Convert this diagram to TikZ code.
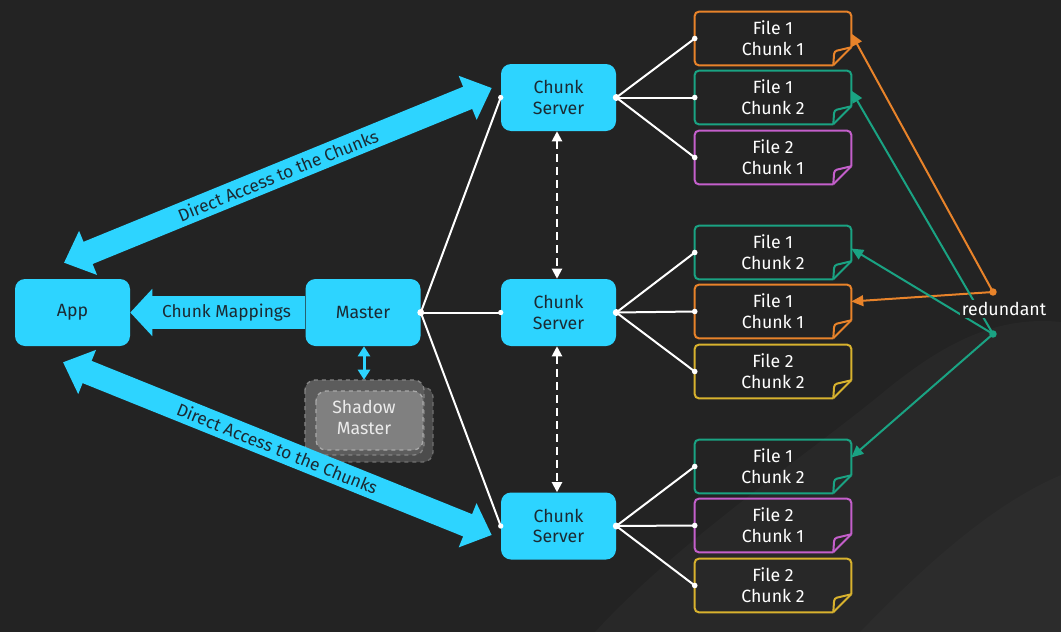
\documentclass[tikz,border=0pt]{standalone}
\usepackage{fontspec}
\setmainfont{Fira Sans}
\usetikzlibrary{arrows.meta}
\usetikzlibrary{calc}

\definecolor{bgdark}{HTML}{232323}
\definecolor{bgwave}{HTML}{282828}
\definecolor{bgwavetwo}{HTML}{2C2C2C}
\definecolor{cyanbox}{HTML}{2DD4FF}
\definecolor{boxtext}{HTML}{1B2A33}
\definecolor{orangec}{HTML}{E8832A}
\definecolor{tealc}{HTML}{1AA383}
\definecolor{magentac}{HTML}{C45FCB}
\definecolor{yellowc}{HTML}{D8B22E}

% folded chunk file: name, y, colour, text
\newcommand{\chunkfile}[4]{%
\node [filebox] (#1) at (773,#2) {#4};
\draw [#3, line width=1.5pt, rounded corners=3pt] ($(#1.south east)+(0,-18)$) -- (#1.north east) -- (#1.north west) -- (#1.south west) -- ($(#1.south east)+(-18,0)$) ;
\draw [#3, line width=1.5pt, line join=round] ($(#1.south east)+(-18,0)$) -- ($(#1.south east)+(0,-18)$) ;
\draw [#3, line width=1.5pt, rounded corners=2pt] ($(#1.south east)+(-18,0)$) -- ($(#1.south east)+(-17,-14)$) -- ($(#1.south east)+(0,-18)$) ;
}

\begin{document}
\begin{tikzpicture}[x=0.75pt,y=0.75pt,yscale=-1,xscale=1,
  cbox/.style={fill=cyanbox, rounded corners=7.5pt, minimum width=86.25pt, minimum height=50.25pt, text=boxtext, align=center, font=\fontsize{13.3}{15.5}\selectfont},
  filebox/.style={minimum width=117pt, minimum height=39.75pt, inner sep=0pt, text=white, align=center, font=\fontsize{13.3}{15.5}\selectfont},
  bigarrow/.style={draw=cyanbox, line width=18pt, <->, >={Triangle[length=19.5pt,width=34.5pt]}},
  maparrow/.style={draw=cyanbox, line width=24.75pt, ->, >={Triangle[length=16.5pt,width=34.5pt]}},
  smallarrow/.style={draw=cyanbox, line width=2.25pt, <->, >={Triangle[length=7.5pt,width=9pt]}},
  dasharrow/.style={draw=white, line width=1.5pt, dash pattern=on 6pt off 3.75pt, <->, >={Triangle[length=7.5pt,width=7.5pt]}},
  link/.style={draw=white, line width=1.5pt},
  redarrow/.style={line width=1.5pt, ->, >={Triangle[length=9pt,width=8pt]}},
  layer/.style={rounded corners=7.5pt, dashed, line width=1pt},
  bandlabel/.style={text=boxtext, font=\fontsize{13}{15}\selectfont}
]
\useasboundingbox (0,0) rectangle (1061,632);
%Shape: Background
\fill [bgdark] (0,0) rectangle (1061,632) ;
\fill [bgwave] (595,632) .. controls (680,540) and (800,460) .. (880,395) .. controls (940,345) and (995,315) .. (1061,322) -- (1061,632) -- cycle ;
\fill [bgwavetwo] (860,632) .. controls (920,570) and (990,505) .. (1061,475) -- (1061,632) -- cycle ;

%Boxes
\node [cbox] (app) at (72.5,312.5) {App};
\node [cbox] (master) at (363,312.5) {Master};
\node [cbox] (cs1) at (558.5,97.5) {Chunk\\Server};
\node [cbox] (cs2) at (558.5,312.5) {Chunk\\Server};
\node [cbox] (cs3) at (558.5,526) {Chunk\\Server};

%Shape: Shadow Master layers
\draw [layer, fill=black!70, draw=black!56] (313,387) rectangle (433,462) ;
\draw [layer, fill=black!64, draw=black!48] (305,380) rectangle (424,455) ;
\draw [layer, fill=black!50, draw=black!34] (316,391) rectangle (423,450) ;
\node [minimum width=89.25pt, minimum height=56.25pt, inner sep=0pt, text=white!92!black, align=center, font=\fontsize{13.3}{15.5}\selectfont] (shadow) at (364,417.5) {Shadow\\Master};

%Chunk files
\chunkfile{f11}{38.5}{orangec}{File 1\\Chunk 1}
\chunkfile{f12}{97.5}{tealc}{File 1\\Chunk 2}
\chunkfile{f13}{157.5}{magentac}{File 2\\Chunk 1}
\chunkfile{f21}{252.5}{tealc}{File 1\\Chunk 2}
\chunkfile{f22}{311.5}{orangec}{File 1\\Chunk 1}
\chunkfile{f23}{371.5}{yellowc}{File 2\\Chunk 2}
\chunkfile{f31}{466.5}{tealc}{File 1\\Chunk 2}
\chunkfile{f32}{525.5}{magentac}{File 2\\Chunk 1}
\chunkfile{f33}{585.5}{yellowc}{File 2\\Chunk 2}

%Big arrows
\draw [bigarrow] ($(app.north)+(-8.5,-16)$) -- ($(cs1.west)+(-9,-9.5)$) node [midway, rotate=22.2, bandlabel] {Direct Access to the Chunks};
\draw [bigarrow] ($(app.south)+(-9.5,16)$) -- ($(cs3.west)+(-9,9)$) node [midway, rotate=-22, bandlabel] {Direct Access to the Chunks};
\draw [maparrow] (master.west) -- (app.east) node [pos=0.45, bandlabel] {Chunk Mappings};
\draw [smallarrow] ($(master.south)+(1,0)$) -- ($(master.south |- shadow.north)+(1,0)$) ;

%Master to chunk servers
\foreach \cs in {cs1,cs2,cs3} {
  \draw [link] (master.east) -- (\cs.west) ;
  \fill [white] (\cs.west) circle (2pt) ;
}
\fill [white] (master.east) circle (2.6pt) ;

%Chunk servers to files
\foreach \cs/\g in {cs1/1,cs2/2,cs3/3} {
  \foreach \k in {1,2,3} {
    \draw [link] (\cs.east) -- (f\g\k.west) ;
    \fill [white] (f\g\k.west) circle (2.1pt) ;
  }
  \fill [white] (\cs.east) circle (2.6pt) ;
}

%Heartbeat dashed arrows
\draw [dasharrow] ($(cs1.south)+(-1.5,0)$) -- ($(cs2.north)+(-1.5,0)$) ;
\draw [dasharrow] ($(cs2.south)+(-1.5,0)$) -- ($(cs3.north)+(-1.5,0)$) ;

%Redundant
\coordinate (redo) at (993,292);
\coordinate (redt) at (993,334);
\draw [redarrow, orangec] (redo) -- ($(f11.east)+(0,-5)$) ;
\draw [redarrow, orangec] (redo) -- ($(f22.east)+(0,-10)$) ;
\draw [redarrow, tealc] (redt) -- ($(f12.east)+(0,-7)$) ;
\draw [redarrow, tealc] (redt) -- ($(f21.east)+(0,-4)$) ;
\draw [redarrow, tealc] (redt) -- ($(f31.east)+(0,-9)$) ;
\node [fill=bgdark, inner sep=1.5pt, text=white, font=\fontsize{13.3}{15}\selectfont] (red) at (1004,309) {redundant};
\fill [orangec] (redo) circle (2.8pt) ;
\fill [tealc] (redt) circle (2.8pt) ;
\end{tikzpicture}
\end{document}
